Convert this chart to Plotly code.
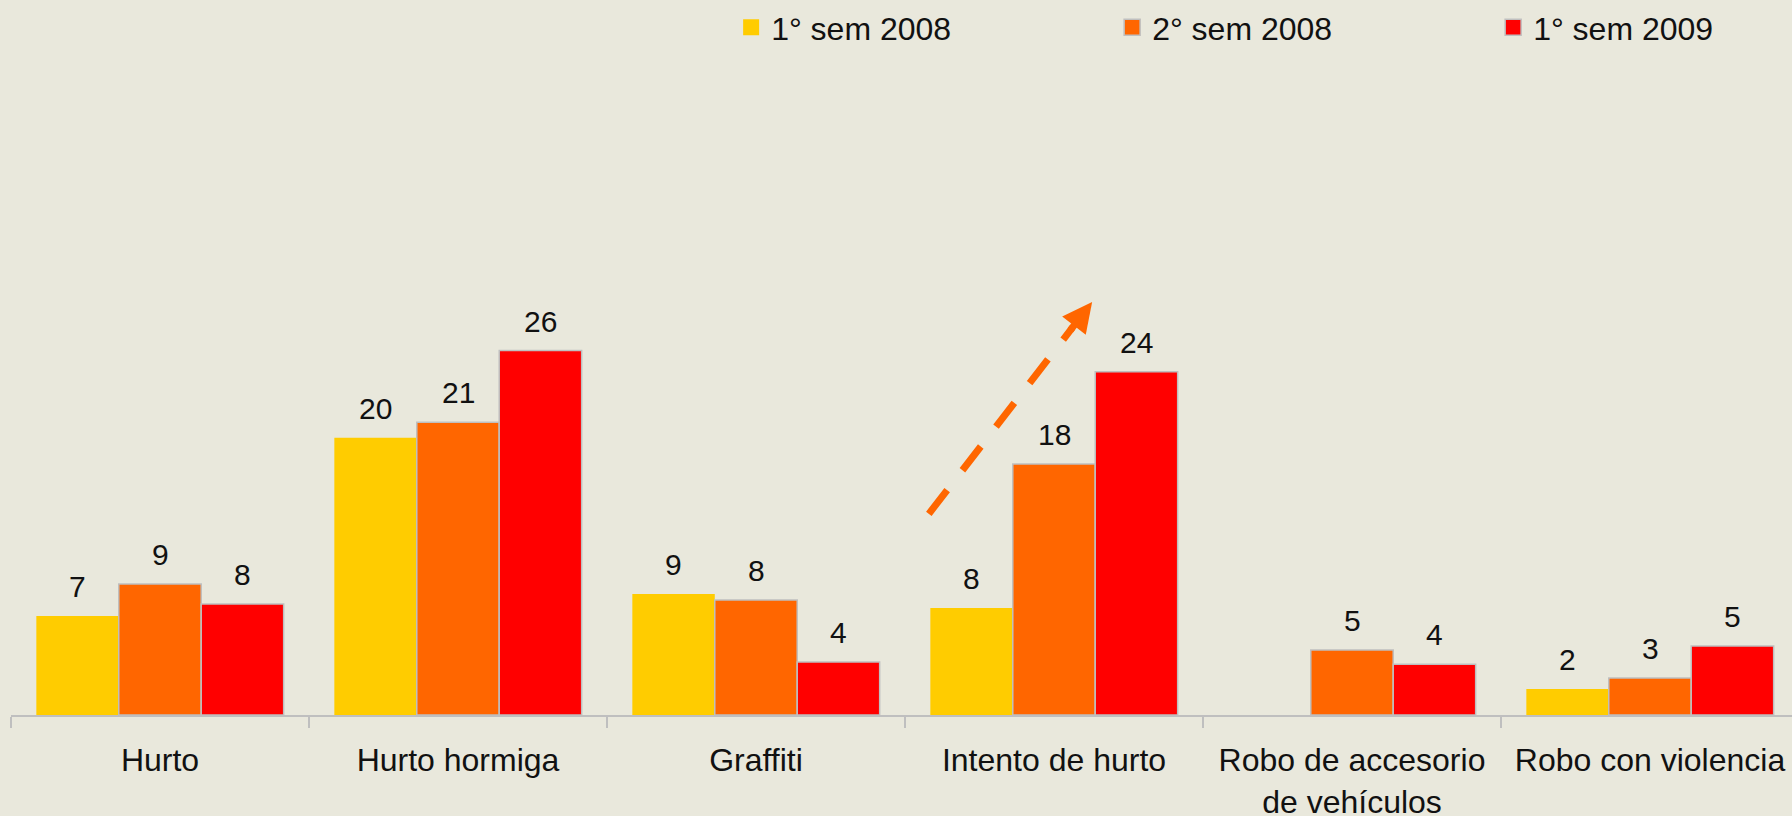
import plotly.graph_objects as go

categories = ["Hurto", "Hurto hormiga", "Graffiti", "Intento de hurto",
              "Robo de accesorio<br>de vehículos", "Robo con violencia"]
series_names = ["1° sem 2008", "2° sem 2008", "1° sem 2009"]
sem1_2008 = [7.04, 19.7, 8.6, 7.6, None, 1.85]
sem2_2008 = [9.31, 20.8, 8.17, 17.84, 4.62, 2.63]
sem1_2009 = [7.89, 25.9, 3.77, 24.4, 3.6, 4.9]
series_values = [sem1_2008, sem2_2008, sem1_2009]
colors = ["#FFCC00", "#FF6600", "#FF0000"]
outline_widths = [0, 1.5, 1.5]

# trend arrow (category-index units, value units)
arrow_start = (2.58, 14.3)
arrow_tip = (3.128, 29.35)

BG = "#E9E8DC"
GRID = "#BFBFBF"
FONT = "Liberation Sans, Arial, sans-serif"
BARGAP = 0.17

fig = go.Figure()
for name, vals, col, lw in zip(series_names, series_values, colors, outline_widths):
    fig.add_trace(go.Bar(
        x=categories, y=vals, name=name, showlegend=False,
        marker=dict(color=col, line=dict(color=GRID, width=lw)),
    ))
# legend entries
for name, col, lw in zip(series_names, colors, outline_widths):
    fig.add_trace(go.Scatter(
        x=[None], y=[None], mode="markers", name=name,
        marker=dict(symbol="square", size=16, color=col, line=dict(color=GRID, width=lw)),
    ))

annotations = []
bw = (1 - BARGAP) / 3
for j, vals in enumerate(series_values):
    for i, v in enumerate(vals):
        if v is None:
            continue
        annotations.append(dict(
            x=i + (j - 1) * bw, y=v, xref="x", yref="y",
            text=f"{v:.0f}", showarrow=False, yanchor="bottom", yshift=11,
            font=dict(size=30, color="#111111", family=FONT),
        ))

# arrow head
fx = 0.86
ax0 = arrow_start[0] + fx * (arrow_tip[0] - arrow_start[0])
ay0 = arrow_start[1] + fx * (arrow_tip[1] - arrow_start[1])
annotations.append(dict(
    x=arrow_tip[0], y=arrow_tip[1], ax=ax0, ay=ay0,
    xref="x", yref="y", axref="x", ayref="y", text="", showarrow=True,
    arrowhead=2, arrowsize=0.85, arrowwidth=7, arrowcolor="#FF6600",
))
fl = 0.88
shapes = [dict(
    type="line", xref="x", yref="y",
    x0=arrow_start[0], y0=arrow_start[1],
    x1=arrow_start[0] + fl * (arrow_tip[0] - arrow_start[0]),
    y1=arrow_start[1] + fl * (arrow_tip[1] - arrow_start[1]),
    line=dict(color="#FF6600", width=7, dash="30px,25px"),
)]

T, B, L = 60, 101, 11
plot_h = 816 - T - B
plot_w = 1792 - L
cat_px = 298
px_per_unit = 14.07

fig.update_layout(
    template="none",
    width=1792, height=816,
    margin=dict(l=L, r=0, t=T, b=B, pad=0),
    paper_bgcolor=BG, plot_bgcolor=BG,
    barmode="group", bargap=BARGAP, bargroupgap=0,
    font=dict(family=FONT, size=31, color="#111111"),
    xaxis=dict(
        type="category", range=[-0.5, -0.5 + plot_w / cat_px],
        showline=True, linecolor=GRID, linewidth=2,
        ticks="outside", tickson="boundaries", ticklen=11, tickwidth=2, tickcolor=GRID,
        showgrid=False, zeroline=False, automargin=False,
        tickfont=dict(size=32, family=FONT, color="#111111"),
        ticklabelstandoff=16,
    ),
    yaxis=dict(visible=False, range=[0, plot_h / px_per_unit], showgrid=False,
               zeroline=False, automargin=False),
    legend=dict(
        orientation="h", xref="container", yref="container",
        x=0.408, y=1.0, xanchor="left", yanchor="top",
        entrywidth=336, entrywidthmode="pixels",
        font=dict(size=32, family=FONT, color="#111111"),
        bgcolor="rgba(0,0,0,0)", borderwidth=0,
    ),
    annotations=annotations,
    shapes=shapes,
)

fig.write_html(
    "out.html",
    config={"displayModeBar": False},
    post_script="document.body.style.margin='0';document.body.style.overflow='hidden';",
)
